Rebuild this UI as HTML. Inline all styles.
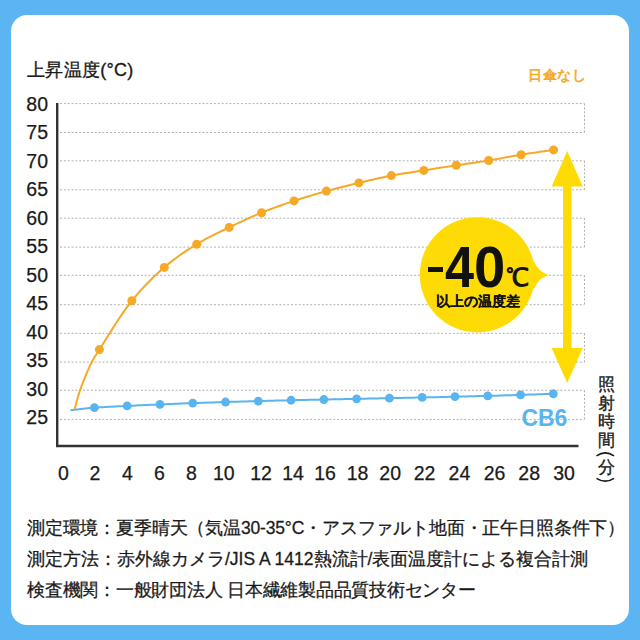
<!DOCTYPE html>
<html lang="ja"><head><meta charset="utf-8">
<style>
html,body{margin:0;padding:0;}
body{width:640px;height:640px;background:#5BB5F2;position:relative;overflow:hidden;font-family:"Liberation Sans",sans-serif;color:#1a1a1a;}
.card{position:absolute;left:11px;top:15px;width:618px;height:610px;border-radius:16px;background:#fff;}
svg{position:absolute;left:0;top:0;}
.t{position:absolute;white-space:nowrap;-webkit-text-stroke:0.35px currentColor;}
.yl{position:absolute;-webkit-text-stroke:0.25px #1a1a1a;left:17px;width:31px;text-align:right;font-size:19.5px;line-height:22px;}
.xl{position:absolute;-webkit-text-stroke:0.25px #1a1a1a;top:462px;width:40px;text-align:center;font-size:19.5px;line-height:22px;}
.foot{position:absolute;-webkit-text-stroke:0.28px #1a1a1a;left:27px;font-size:17.5px;line-height:22px;}
</style></head><body>
<div class="card"></div>
<svg width="640" height="640" viewBox="0 0 640 640">
<line x1="60" y1="103.6" x2="584.5" y2="103.6" stroke="#b0b0b0" stroke-width="1" stroke-dasharray="2 1.85"/>
<line x1="60" y1="132.5" x2="584.5" y2="132.5" stroke="#b0b0b0" stroke-width="1" stroke-dasharray="2 1.85"/>
<line x1="60" y1="160.8" x2="584.5" y2="160.8" stroke="#b0b0b0" stroke-width="1" stroke-dasharray="2 1.85"/>
<line x1="60" y1="189.8" x2="584.5" y2="189.8" stroke="#b0b0b0" stroke-width="1" stroke-dasharray="2 1.85"/>
<line x1="60" y1="218.2" x2="584.5" y2="218.2" stroke="#b0b0b0" stroke-width="1" stroke-dasharray="2 1.85"/>
<line x1="60" y1="247.1" x2="584.5" y2="247.1" stroke="#b0b0b0" stroke-width="1" stroke-dasharray="2 1.85"/>
<line x1="60" y1="275.3" x2="584.5" y2="275.3" stroke="#b0b0b0" stroke-width="1" stroke-dasharray="2 1.85"/>
<line x1="60" y1="304.7" x2="584.5" y2="304.7" stroke="#b0b0b0" stroke-width="1" stroke-dasharray="2 1.85"/>
<line x1="60" y1="333.3" x2="584.5" y2="333.3" stroke="#b0b0b0" stroke-width="1" stroke-dasharray="2 1.85"/>
<line x1="60" y1="362.1" x2="584.5" y2="362.1" stroke="#b0b0b0" stroke-width="1" stroke-dasharray="2 1.85"/>
<line x1="60" y1="390.3" x2="584.5" y2="390.3" stroke="#b0b0b0" stroke-width="1" stroke-dasharray="2 1.85"/>
<line x1="60" y1="419.4" x2="584.5" y2="419.4" stroke="#b0b0b0" stroke-width="1" stroke-dasharray="2 1.85"/>
<line x1="584.5" y1="103.6" x2="584.5" y2="132.5" stroke="#b0b0b0" stroke-width="1" stroke-dasharray="2 1.85"/>
<line x1="584.5" y1="160.8" x2="584.5" y2="189.8" stroke="#b0b0b0" stroke-width="1" stroke-dasharray="2 1.85"/>
<line x1="584.5" y1="218.2" x2="584.5" y2="247.1" stroke="#b0b0b0" stroke-width="1" stroke-dasharray="2 1.85"/>
<line x1="584.5" y1="275.3" x2="584.5" y2="304.7" stroke="#b0b0b0" stroke-width="1" stroke-dasharray="2 1.85"/>
<line x1="584.5" y1="333.3" x2="584.5" y2="362.1" stroke="#b0b0b0" stroke-width="1" stroke-dasharray="2 1.85"/>
<line x1="584.5" y1="390.3" x2="584.5" y2="419.4" stroke="#b0b0b0" stroke-width="1" stroke-dasharray="2 1.85"/>
<path d="M57.2,103 V446 H578.5" fill="none" stroke="#333" stroke-width="2.4"/>
<path d="M70.50,410.20 L72.66,409.97 L74.79,409.74 L76.91,409.50 L79.03,409.26 L81.15,409.02 L83.28,408.79 L85.43,408.56 L87.61,408.33 L89.82,408.12 L92.08,407.91 L94.40,407.72 L97.18,407.51 L100.04,407.32 L102.96,407.14 L105.94,406.97 L108.95,406.81 L111.99,406.66 L115.04,406.51 L118.10,406.37 L121.15,406.22 L124.18,406.08 L127.18,405.93 L130.16,405.78 L133.14,405.63 L136.12,405.49 L139.10,405.35 L142.08,405.21 L145.06,405.07 L148.04,404.93 L151.02,404.80 L154.00,404.67 L156.98,404.54 L159.96,404.41 L162.94,404.28 L165.92,404.16 L168.90,404.04 L171.88,403.92 L174.86,403.80 L177.84,403.68 L180.82,403.57 L183.80,403.45 L186.78,403.34 L189.76,403.23 L192.74,403.12 L195.72,403.01 L198.70,402.91 L201.68,402.80 L204.66,402.70 L207.64,402.60 L210.62,402.50 L213.60,402.40 L216.58,402.30 L219.56,402.21 L222.54,402.11 L225.52,402.02 L228.50,401.93 L231.48,401.84 L234.46,401.75 L237.44,401.66 L240.42,401.58 L243.40,401.49 L246.38,401.41 L249.36,401.32 L252.34,401.24 L255.32,401.16 L258.30,401.08 L261.28,401.00 L264.26,400.92 L267.24,400.84 L270.22,400.77 L273.20,400.69 L276.18,400.61 L279.16,400.54 L282.14,400.47 L285.12,400.39 L288.10,400.32 L291.08,400.25 L294.06,400.18 L297.04,400.11 L300.02,400.04 L303.00,399.98 L305.98,399.91 L308.96,399.84 L311.94,399.78 L314.92,399.71 L317.90,399.65 L320.88,399.58 L323.86,399.52 L326.84,399.46 L329.82,399.39 L332.80,399.33 L335.78,399.27 L338.76,399.20 L341.74,399.14 L344.72,399.08 L347.70,399.02 L350.68,398.95 L353.66,398.89 L356.64,398.83 L359.62,398.77 L362.60,398.71 L365.58,398.65 L368.56,398.59 L371.54,398.53 L374.52,398.46 L377.50,398.40 L380.48,398.34 L383.46,398.28 L386.44,398.22 L389.42,398.16 L392.40,398.10 L395.38,398.04 L398.36,397.97 L401.34,397.91 L404.32,397.85 L407.30,397.79 L410.28,397.73 L413.26,397.66 L416.24,397.60 L419.22,397.54 L422.20,397.47 L425.18,397.40 L428.16,397.34 L431.14,397.27 L434.12,397.21 L437.10,397.14 L440.08,397.07 L443.06,397.00 L446.04,396.93 L449.02,396.86 L452.00,396.79 L454.98,396.72 L457.96,396.65 L460.94,396.57 L463.92,396.50 L466.90,396.43 L469.88,396.35 L472.86,396.28 L475.84,396.20 L478.82,396.12 L481.80,396.04 L484.78,395.96 L487.76,395.88 L490.74,395.80 L493.72,395.71 L496.70,395.63 L499.68,395.54 L502.66,395.46 L505.64,395.37 L508.62,395.28 L511.60,395.19 L514.58,395.10 L517.56,395.01 L520.54,394.91 L523.52,394.81 L526.50,394.71 L529.48,394.61 L532.46,394.51 L535.44,394.40 L538.42,394.30 L541.40,394.19 L544.38,394.09 L547.36,393.98 L550.34,393.87 L553.32,393.77" fill="none" stroke="#5AB4F0" stroke-width="2" stroke-linejoin="round"/>
<path d="M74.50,409.50 L75.01,407.73 L75.49,405.98 L75.96,404.23 L76.43,402.49 L76.90,400.75 L77.38,399.01 L77.87,397.24 L78.40,395.45 L78.95,393.64 L79.55,391.79 L80.20,389.90 L81.06,387.51 L81.99,384.99 L82.99,382.38 L84.04,379.70 L85.12,377.01 L86.23,374.32 L87.36,371.69 L88.48,369.13 L89.58,366.69 L90.66,364.40 L91.70,362.30 L92.39,360.97 L93.04,359.76 L93.67,358.65 L94.28,357.61 L94.90,356.60 L95.53,355.60 L96.19,354.57 L96.89,353.49 L97.65,352.32 L98.48,351.03 L99.40,349.60 L101.48,346.30 L103.85,342.47 L106.49,338.23 L109.34,333.66 L112.37,328.86 L115.53,323.94 L118.78,318.98 L122.07,314.09 L125.38,309.37 L128.65,304.90 L131.84,300.80 L134.65,297.37 L137.50,294.03 L140.37,290.77 L143.28,287.59 L146.21,284.49 L149.16,281.46 L152.14,278.51 L155.15,275.63 L158.17,272.82 L161.22,270.08 L164.28,267.40 L167.14,264.99 L170.02,262.65 L172.92,260.38 L175.84,258.18 L178.78,256.03 L181.74,253.94 L184.72,251.90 L187.70,249.91 L190.70,247.97 L193.71,246.06 L196.72,244.20 L199.62,242.47 L202.53,240.80 L205.46,239.18 L208.40,237.62 L211.35,236.10 L214.31,234.61 L217.28,233.15 L220.25,231.70 L223.22,230.27 L226.19,228.84 L229.16,227.40 L232.09,225.98 L235.03,224.58 L237.96,223.18 L240.90,221.80 L243.85,220.44 L246.80,219.09 L249.75,217.77 L252.70,216.46 L255.66,215.18 L258.63,213.93 L261.60,212.70 L264.53,211.52 L267.46,210.37 L270.40,209.24 L273.35,208.13 L276.29,207.05 L279.25,205.98 L282.20,204.94 L285.16,203.91 L288.12,202.89 L291.08,201.89 L294.04,200.90 L296.98,199.93 L299.92,198.98 L302.86,198.05 L305.81,197.13 L308.75,196.23 L311.70,195.34 L314.66,194.47 L317.61,193.61 L320.57,192.76 L323.52,191.93 L326.48,191.10 L329.42,190.29 L332.36,189.50 L335.31,188.73 L338.26,187.97 L341.21,187.22 L344.16,186.48 L347.11,185.75 L350.06,185.03 L353.01,184.32 L355.97,183.61 L358.92,182.90 L361.86,182.20 L364.81,181.49 L367.75,180.79 L370.70,180.09 L373.65,179.41 L376.60,178.73 L379.54,178.07 L382.50,177.42 L385.45,176.79 L388.40,176.18 L391.36,175.60 L394.30,175.05 L397.25,174.53 L400.19,174.03 L403.14,173.55 L406.09,173.09 L409.04,172.64 L411.99,172.20 L414.95,171.76 L417.90,171.31 L420.85,170.86 L423.80,170.40 L426.75,169.93 L429.70,169.46 L432.65,168.99 L435.59,168.53 L438.54,168.06 L441.49,167.59 L444.44,167.13 L447.39,166.67 L450.34,166.21 L453.29,165.75 L456.24,165.30 L459.19,164.86 L462.14,164.42 L465.09,164.00 L468.04,163.57 L470.99,163.15 L473.94,162.73 L476.89,162.31 L479.84,161.87 L482.79,161.43 L485.73,160.97 L488.68,160.50 L491.63,160.01 L494.58,159.49 L497.53,158.96 L500.48,158.42 L503.43,157.87 L506.37,157.33 L509.32,156.78 L512.27,156.24 L515.22,155.71 L518.17,155.19 L521.12,154.70 L524.07,154.23 L527.01,153.77 L529.96,153.32 L532.91,152.88 L535.86,152.45 L538.81,152.03 L541.76,151.60 L544.71,151.18 L547.66,150.76 L550.61,150.33 L553.56,149.90" fill="none" stroke="#F6A926" stroke-width="2" stroke-linejoin="round"/>
<circle cx="94.40" cy="407.72" r="4.4" fill="#5AB4F0"/>
<circle cx="127.18" cy="405.93" r="4.4" fill="#5AB4F0"/>
<circle cx="159.96" cy="404.41" r="4.4" fill="#5AB4F0"/>
<circle cx="192.74" cy="403.12" r="4.4" fill="#5AB4F0"/>
<circle cx="225.52" cy="402.02" r="4.4" fill="#5AB4F0"/>
<circle cx="258.30" cy="401.08" r="4.4" fill="#5AB4F0"/>
<circle cx="291.08" cy="400.25" r="4.4" fill="#5AB4F0"/>
<circle cx="323.86" cy="399.52" r="4.4" fill="#5AB4F0"/>
<circle cx="356.64" cy="398.83" r="4.4" fill="#5AB4F0"/>
<circle cx="389.42" cy="398.16" r="4.4" fill="#5AB4F0"/>
<circle cx="422.20" cy="397.47" r="4.4" fill="#5AB4F0"/>
<circle cx="454.98" cy="396.72" r="4.4" fill="#5AB4F0"/>
<circle cx="487.76" cy="395.88" r="4.4" fill="#5AB4F0"/>
<circle cx="520.54" cy="394.91" r="4.4" fill="#5AB4F0"/>
<circle cx="553.32" cy="393.77" r="4.4" fill="#5AB4F0"/>
<circle cx="99.40" cy="349.6" r="4.5" fill="#F6A926"/>
<circle cx="131.84" cy="300.8" r="4.5" fill="#F6A926"/>
<circle cx="164.28" cy="267.4" r="4.5" fill="#F6A926"/>
<circle cx="196.72" cy="244.2" r="4.5" fill="#F6A926"/>
<circle cx="229.16" cy="227.4" r="4.5" fill="#F6A926"/>
<circle cx="261.60" cy="212.7" r="4.5" fill="#F6A926"/>
<circle cx="294.04" cy="200.9" r="4.5" fill="#F6A926"/>
<circle cx="326.48" cy="191.1" r="4.5" fill="#F6A926"/>
<circle cx="358.92" cy="182.9" r="4.5" fill="#F6A926"/>
<circle cx="391.36" cy="175.6" r="4.5" fill="#F6A926"/>
<circle cx="423.80" cy="170.4" r="4.5" fill="#F6A926"/>
<circle cx="456.24" cy="165.3" r="4.5" fill="#F6A926"/>
<circle cx="488.68" cy="160.5" r="4.5" fill="#F6A926"/>
<circle cx="521.12" cy="154.7" r="4.5" fill="#F6A926"/>
<circle cx="553.56" cy="149.9" r="4.5" fill="#F6A926"/>
<path d="M567.2,151 L582.8,186.5 L571.5,186.5 L571.5,348 L582.8,348 L567.2,383 L551.6,348 L563,348 L563,186.5 L551.6,186.5 Z" fill="#FFDB05"/>
<circle cx="477.4" cy="274.8" r="57.6" fill="#FFDB05"/>
<path d="M526,256 L534,261.5 Q538.5,272 548.8,275 Q538.5,278 534.5,288 L526,293 Z" fill="#FFDB05"/>
</svg>
<div class="t" style="left:27px;top:59px;font-size:18px;line-height:22px;letter-spacing:0.3px">上昇温度(°C)</div>
<div class="t" style="left:528px;top:64.5px;font-size:14px;letter-spacing:0.6px;line-height:20px;color:#F6A926;-webkit-text-stroke:0.6px #F6A926;">日傘なし</div>
<div class="yl" style="top:92.6px">80</div><div class="yl" style="top:121.1px">75</div><div class="yl" style="top:149.6px">70</div><div class="yl" style="top:178.2px">65</div><div class="yl" style="top:206.7px">60</div><div class="yl" style="top:235.2px">55</div><div class="yl" style="top:263.7px">50</div><div class="yl" style="top:292.2px">45</div><div class="yl" style="top:320.8px">40</div><div class="yl" style="top:349.3px">35</div><div class="yl" style="top:377.8px">30</div><div class="yl" style="top:406.3px">25</div>
<div class="xl" style="left:43.4px">0</div><div class="xl" style="left:75.0px">2</div><div class="xl" style="left:107.4px">4</div><div class="xl" style="left:139.5px">6</div><div class="xl" style="left:171.4px">8</div><div class="xl" style="left:203.8px">10</div><div class="xl" style="left:241.0px">12</div><div class="xl" style="left:273.1px">14</div><div class="xl" style="left:305.0px">16</div><div class="xl" style="left:337.5px">18</div><div class="xl" style="left:370.2px">20</div><div class="xl" style="left:404.6px">22</div><div class="xl" style="left:439.4px">24</div><div class="xl" style="left:474.5px">26</div><div class="xl" style="left:509.2px">28</div><div class="xl" style="left:544.1px">30</div>
<div class="t" style="left:597px;top:376px;font-size:17px;line-height:18.7px;width:18px;white-space:normal;text-align:center">照<br>射<br>時<br>間</div>
<div class="t" style="left:597.5px;top:458.5px;font-size:17px;line-height:18px;">分</div>
<svg width="640" height="640" style="position:absolute;left:0;top:0"><path d="M596.5,455.8 Q605.3,450 614,455.8 M596.5,478.3 Q605.3,484 614,478.3" fill="none" stroke="#1a1a1a" stroke-width="1.6"/></svg>
<div class="t" style="left:521.5px;top:406px;font-size:23px;line-height:24px;color:#5AB4F0;font-weight:bold;-webkit-text-stroke:0;letter-spacing:-0.1px">CB6</div>
<div style="position:absolute;left:428px;top:266.5px;width:14.5px;height:5.5px;background:#111"></div>
<div class="t" style="left:445px;top:238px;font-size:58px;line-height:58px;font-weight:bold;color:#111;-webkit-text-stroke:0;transform:scaleX(0.9);transform-origin:0 0">4</div>
<div class="t" style="left:474px;top:238px;font-size:58px;line-height:58px;font-weight:bold;color:#111;-webkit-text-stroke:0;transform:scaleX(0.97);transform-origin:0 0">0</div>
<div class="t" style="left:505.5px;top:262.5px;font-size:25px;line-height:28px;color:#111;-webkit-text-stroke:0.9px #111">℃</div>
<div class="t" style="left:436px;top:293px;font-size:13.8px;line-height:18px;font-weight:bold;color:#111;-webkit-text-stroke:0.1px #111;">以上の温度差</div>
<div class="foot" style="top:517px;letter-spacing:-0.17px">測定環境：夏季晴天（気温30-35°C・アスファルト地面・正午日照条件下）</div>
<div class="foot" style="top:548px">測定方法：赤外線カメラ/JIS A 1412熱流計/表面温度計による複合計測</div>
<div class="foot" style="top:579px;letter-spacing:-0.24px">検査機関：一般財団法人 日本繊維製品品質技術センター</div>
</body></html>
